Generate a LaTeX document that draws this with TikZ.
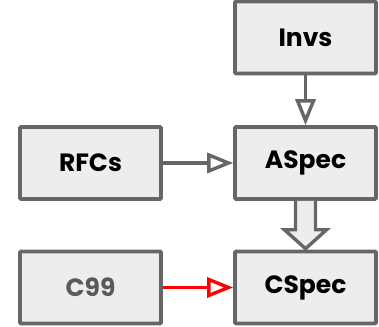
\documentclass[tikz,border=0pt]{standalone}
\usepackage{fontspec}
\setmainfont{Poppins}
\usetikzlibrary{arrows.meta,calc}
\definecolor{boxfill}{HTML}{EDEDED}
\definecolor{boxline}{HTML}{666666}
\definecolor{mutedtext}{HTML}{5A5A5A}
\begin{document}
\begin{tikzpicture}[x=1pt,y=1pt,
  block/.style={draw=boxline, fill=boxfill, line width=3.6pt, rounded corners=1pt,
    minimum width=141pt, minimum height=72pt, inner sep=0pt,
    font=\fontsize{25}{28}\selectfont\bfseries, text=black},
  link/.style={draw=boxline, line width=3.4pt,
    -{Triangle[open, length=26pt, width=20pt, line width=3.4pt]}},
  redlink/.style={link, draw=red}
]
\useasboundingbox (0,0) rectangle (379,326);

\node[block] (invs)  at (305.5,288.5) {Invs};
\node[block] (rfcs)  at (90.5,163)    {RFCs};
\node[block] (aspec) at (305.5,163)   {ASpec};
\node[block, text=mutedtext] (c99) at (90.5,38.5) {C99};
\node[block] (cspec) at (305.5,38.5)  {CSpec};

\draw[link] (invs) -- (aspec);
\draw[link] (rfcs) -- (aspec);
\draw[redlink] (c99) -- (cspec);

% hollow block arrow from ASpec down to CSpec
\draw[draw=boxline, fill=boxfill, line width=3.4pt, line join=miter]
  ($(aspec.south)+(-10,0)$) -- ($(aspec.south)+(-10,-29)$)
  -- ($(aspec.south)+(-21,-29)$) -- ($(cspec.north)+(0,1)$)
  -- ($(aspec.south)+(21,-29)$) -- ($(aspec.south)+(10,-29)$)
  -- ($(aspec.south)+(10,0)$);
\end{tikzpicture}
\end{document}
